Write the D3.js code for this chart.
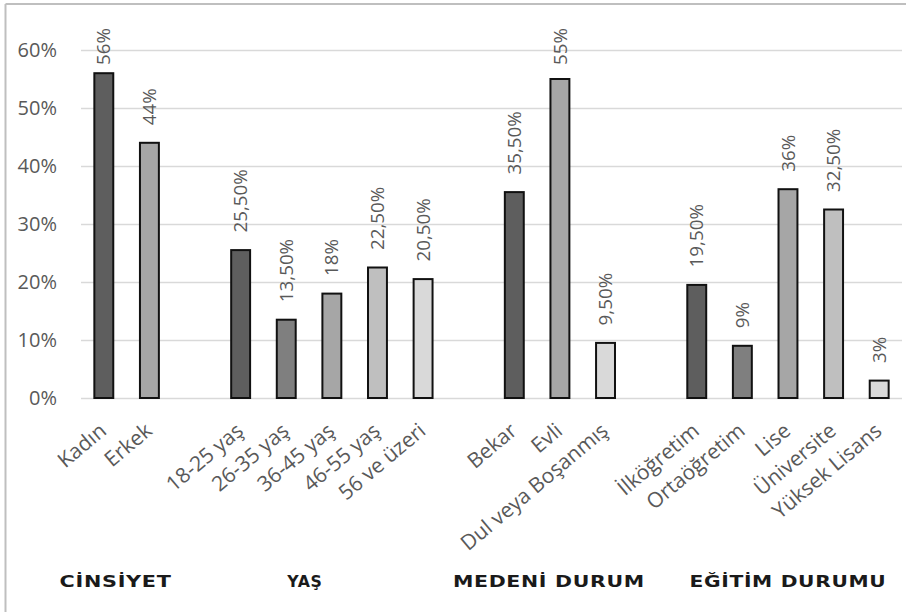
<!DOCTYPE html>
<html>
<head>
<meta charset="utf-8">
<script src="https://cdn.jsdelivr.net/npm/d3@7"></script>
<style>
  html, body { margin: 0; padding: 0; background: #fff; }
  svg { display: block; }
</style>
</head>
<body>
<svg id="chart" width="906" height="615"></svg>
<script>
// Survey demographics: share of respondents per category (percent)
const categories = [
  "Kadın", "Erkek",
  "18-25 yaş", "26-35 yaş", "36-45 yaş", "46-55 yaş", "56 ve üzeri",
  "Bekar", "Evli", "Dul veya Boşanmış",
  "İlköğretim", "Ortaöğretim", "Lise", "Üniversite", "Yüksek Lisans"
];
const values = [56, 44, 25.5, 13.5, 18, 22.5, 20.5, 35.5, 55, 9.5, 19.5, 9, 36, 32.5, 3];
const groupOf = [0, 0, 1, 1, 1, 1, 1, 2, 2, 2, 3, 3, 3, 3, 3];
const groupNames = ["CİNSİYET", "YAŞ", "MEDENİ DURUM", "EĞİTİM DURUMU"];
const yTicks = [0, 10, 20, 30, 40, 50, 60];

// grey shades used inside each group, dark to light
const palette = ["#5e5e5e", "#7f7f7f", "#a6a6a6", "#bfbfbf", "#d9d9d9"];
const shadeIndex = [0, 2, 0, 1, 2, 3, 4, 0, 2, 4, 0, 1, 2, 3, 4];

const svg = d3.select("#chart");
const W = 906, H = 615;
const plot = { left: 81, right: 902, top: 50, bottom: 398 };

// frame lines (top and left)
svg.append("line").attr("x1", 5.5).attr("x2", W).attr("y1", 4).attr("y2", 4)
  .attr("stroke", "#bfbfbf").attr("stroke-width", 2);
svg.append("line").attr("x1", 5.5).attr("x2", 5.5).attr("y1", 4).attr("y2", 612)
  .attr("stroke", "#bfbfbf").attr("stroke-width", 2);

// slot keys: categories with one empty slot between groups
const slots = [];
categories.forEach((c, i) => {
  if (i > 0 && groupOf[i] !== groupOf[i - 1]) slots.push("gap-" + groupOf[i]);
  slots.push(c);
});

const x = d3.scaleBand()
  .domain(slots)
  .range([plot.left, plot.right])
  .paddingInner(0.585)
  .paddingOuter(0.2925);

const y = d3.scaleLinear().domain([0, 60]).range([plot.bottom, plot.top]);

// gridlines + y tick labels via axis
const yAxis = d3.axisLeft(y)
  .tickValues(yTicks)
  .tickSize(-(plot.right - plot.left))
  .tickPadding(24)
  .tickFormat(d => d + "%");

const gy = svg.append("g")
  .attr("transform", `translate(${plot.left},0)`)
  .call(yAxis);
gy.select(".domain").remove();
gy.selectAll(".tick line").attr("stroke", "#d9d9d9").attr("stroke-width", 1.5);
gy.selectAll(".tick text")
  .attr("fill", "#595959")
  .style("font-family", "'Open Sans', sans-serif")
  .style("font-size", "20px");

const data = categories.map((c, i) => ({ c, v: values[i], g: groupOf[i], s: shadeIndex[i] }));

// bars
svg.append("g").selectAll("rect")
  .data(data)
  .join("rect")
  .attr("x", d => x(d.c))
  .attr("y", d => y(d.v))
  .attr("width", x.bandwidth())
  .attr("height", d => y(0) - y(d.v))
  .attr("fill", d => palette[d.s])
  .attr("stroke", "#111")
  .attr("stroke-width", 2);

// value labels, rotated, kept below the top edge of the frame
const fmt = v => Number.isInteger(v) ? v + "%" : v.toFixed(2).replace(".", ",") + "%";
const labelTop = 28;
const vl = svg.append("g").selectAll("text")
  .data(data)
  .join("text")
  .text(d => fmt(d.v))
  .attr("fill", "#595959")
  .attr("text-anchor", "start")
  .attr("dy", "0.35em")
  .style("font-family", "'Open Sans', sans-serif")
  .style("font-size", "18.8px");
vl.each(function(d) {
  const len = this.getComputedTextLength();
  const cx = x(d.c) + x.bandwidth() / 2;
  const yy = Math.max(y(d.v) - 17.5, labelTop + len);
  d3.select(this).attr("transform", `translate(${cx},${yy}) rotate(-90)`);
});

// slanted category labels
svg.append("g").selectAll("text")
  .data(data)
  .join("text")
  .text(d => d.c)
  .attr("fill", "#595959")
  .attr("text-anchor", "end")
  .attr("transform", d => `translate(${x(d.c) + x.bandwidth() / 2 + 4},${plot.bottom + 35}) rotate(-40)`)
  .style("font-family", "'Open Sans', sans-serif")
  .style("font-size", "21px");

// group titles under each block
const titleWidths = [112, 35, 192, 197];
const titleShift = [-11, -27, -11, 0];
groupNames.forEach((name, gi) => {
  const members = data.filter(d => d.g === gi);
  const x0 = x(members[0].c), x1 = x(members[members.length - 1].c) + x.bandwidth();
  const cx = (x0 + x1) / 2 + titleShift[gi];
  svg.append("text")
    .text(name)
    .attr("x", cx - titleWidths[gi] / 2)
    .attr("y", 587)
    .attr("textLength", titleWidths[gi])
    .attr("lengthAdjust", "spacingAndGlyphs")
    .attr("fill", "#1a1a1a")
    .style("font-family", "'DejaVu Sans', sans-serif")
    .style("font-weight", "bold")
    .style("font-size", "15px")
    .style("letter-spacing", "0.5px");
});
</script>
</body>
</html>
